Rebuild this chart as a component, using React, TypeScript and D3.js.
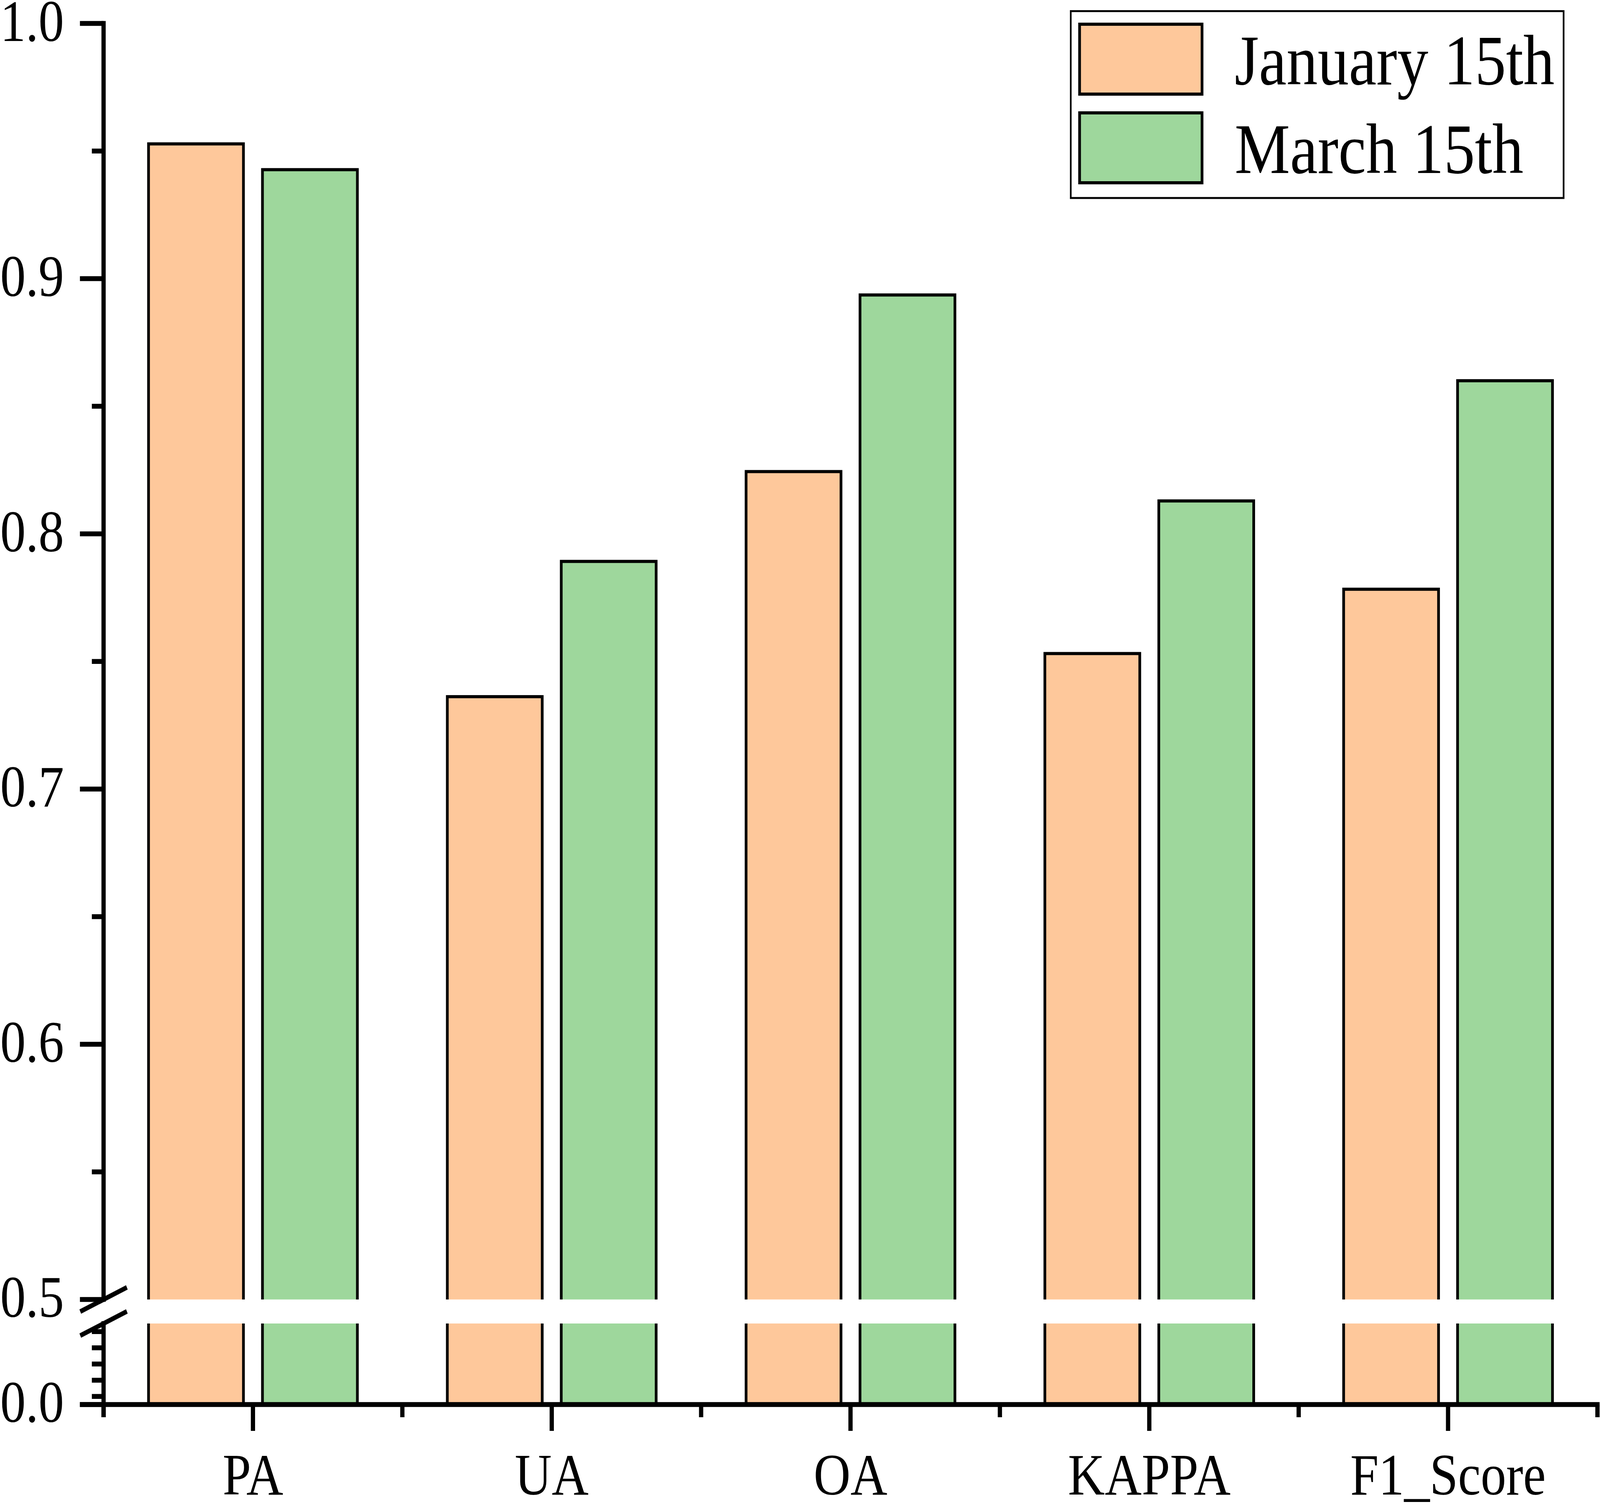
import React from "react";
import * as d3 from "d3";

const categories = ["PA", "UA", "OA", "KAPPA", "F1_Score"];
const seriesNames = ["January 15th", "March 15th"];
const january = [0.9528, 0.7362, 0.8244, 0.7531, 0.7783];
const march = [0.9427, 0.7892, 0.8936, 0.8129, 0.86];
const seriesColors = ["#FEC89B", "#9ED79C"];
const upperMajorTicks = [0.5, 0.6, 0.7, 0.8, 0.9, 1.0];
const upperMinorTicks = [0.55, 0.65, 0.75, 0.85, 0.95];
const lowerMajorTicks = [0.0];
const lowerMinorTicks = [0.05, 0.15, 0.25, 0.35, 0.45];

const W = 4704;
const H = 3864;
const FONT = "'Liberation Serif', 'Times New Roman', Times, serif";

export default function App() {
  const x0 = 304.5;
  const x1 = 4696.5;
  const axisY = 3596.5;
  const upper = d3.scaleLinear().domain([0.5, 1.0]).range([3327.5, 60]);
  const lower = d3.scaleLinear().domain([0, 0.5]).range([axisY, 3389]);
  const y = (v: number) => (v >= 0.5 ? upper(v) : lower(v));

  const x = d3.scaleBand<string>().domain(categories).range([x0, x1]).paddingInner(0).paddingOuter(0);
  const bw = x.bandwidth();
  const groupFrac = 0.699;
  const xs = d3
    .scaleBand<string>()
    .domain(seriesNames)
    .range([(bw * (1 - groupFrac)) / 2, (bw * (1 + groupFrac)) / 2])
    .paddingInner(0.167)
    .paddingOuter(0);

  const values = [january, march];
  const axisW = 12.5;
  const majorLeft = 235;
  const minorLeft = 270;
  const gapTop = upper(0.5);
  const gapBottom = lower(0.5);

  const bandEdges = [...categories.map((c) => x(c)!), x1];

  const slash = (cy: number, key: string) => (
    <line
      key={key}
      x1={x0 - 68.5}
      y1={cy + 31}
      x2={x0 + 68.5}
      y2={cy - 31}
      stroke="#000"
      strokeWidth={12}
    />
  );

  return (
    <svg
      viewBox={`0 0 ${W} ${H}`}
      preserveAspectRatio="none"
      style={{ position: "fixed", left: 0, top: 0, width: "100vw", height: "100vh", background: "#fff", display: "block" }}
      fontFamily={FONT}
    >
      <rect x={0} y={0} width={W} height={H} fill="#fff" />
      {/* bars */}
      {categories.map((c, i) => (
        <g key={c} transform={`translate(${x(c)},0)`}>
          {seriesNames.map((s, j) => {
            const v = values[j][i];
            return (
              <rect
                key={s}
                x={xs(s)}
                y={y(v)}
                width={xs.bandwidth()}
                height={y(0) - y(v)}
                fill={seriesColors[j]}
                stroke="#000"
                strokeWidth={8}
              />
            );
          })}
        </g>
      ))}
      {/* break gap */}
      <rect x={x0 + 20} y={gapTop} width={x1 - x0} height={gapBottom - gapTop} fill="#fff" />

      {/* y axis segments */}
      <line x1={x0} y1={upper(1.0) - axisW / 2} x2={x0} y2={gapTop + 6} stroke="#000" strokeWidth={axisW} />
      <line x1={x0} y1={gapBottom - 6} x2={x0} y2={3629} stroke="#000" strokeWidth={axisW} />
      {/* x axis */}
      <line x1={majorLeft} y1={axisY} x2={x1 + axisW / 2} y2={axisY} stroke="#000" strokeWidth={axisW} />

      {/* y ticks upper */}
      {upperMajorTicks.map((t) => (
        <g key={"um" + t}>
          <line x1={majorLeft} x2={x0} y1={upper(t)} y2={upper(t)} stroke="#000" strokeWidth={axisW} />
          <text x={188} y={upper(t) + 45} fontSize={150} textAnchor="end" fill="#000">
            {d3.format(".1f")(t)}
          </text>
        </g>
      ))}
      {upperMinorTicks.map((t) => (
        <line key={"un" + t} x1={minorLeft} x2={x0} y1={upper(t)} y2={upper(t)} stroke="#000" strokeWidth={axisW} />
      ))}
      {/* y ticks lower */}
      {lowerMajorTicks.map((t) => (
        <g key={"lm" + t}>
          <line x1={majorLeft} x2={x0} y1={lower(t)} y2={lower(t)} stroke="#000" strokeWidth={axisW} />
          <text x={188} y={lower(t) + 45} fontSize={150} textAnchor="end" fill="#000">
            {d3.format(".1f")(t)}
          </text>
        </g>
      ))}
      {lowerMinorTicks.map((t) => (
        <line key={"ln" + t} x1={minorLeft} x2={x0} y1={lower(t)} y2={lower(t)} stroke="#000" strokeWidth={axisW} />
      ))}
      {/* break slashes */}
      {slash(gapTop, "s1")}
      {slash(gapBottom, "s2")}

      {/* x ticks */}
      {bandEdges.map((e, i) => (
        <line key={"xm" + i} x1={e} x2={e} y1={axisY} y2={3629} stroke="#000" strokeWidth={axisW} />
      ))}
      {categories.map((c) => (
        <g key={"xc" + c}>
          <line x1={x(c)! + bw / 2} x2={x(c)! + bw / 2} y1={axisY} y2={3664} stroke="#000" strokeWidth={axisW} />
          <text x={x(c)! + bw / 2} y={3827} fontSize={150} textAnchor="middle" fill="#000">
            {c}
          </text>
        </g>
      ))}

      {/* legend */}
      <rect x={3148} y={28.5} width={4597 - 3148} height={507 - 28.5} fill="#fff" stroke="#000" strokeWidth={5} />
      {seriesNames.map((s, j) => (
        <g key={"lg" + s} transform={`translate(0,${j * 227})`}>
          <rect x={3174} y={62} width={360} height={179} fill={seriesColors[j]} stroke="#000" strokeWidth={8} />
          <text x={3630} y={216} fontSize={183} fill="#000">
            {s}
          </text>
        </g>
      ))}
    </svg>
  );
}
